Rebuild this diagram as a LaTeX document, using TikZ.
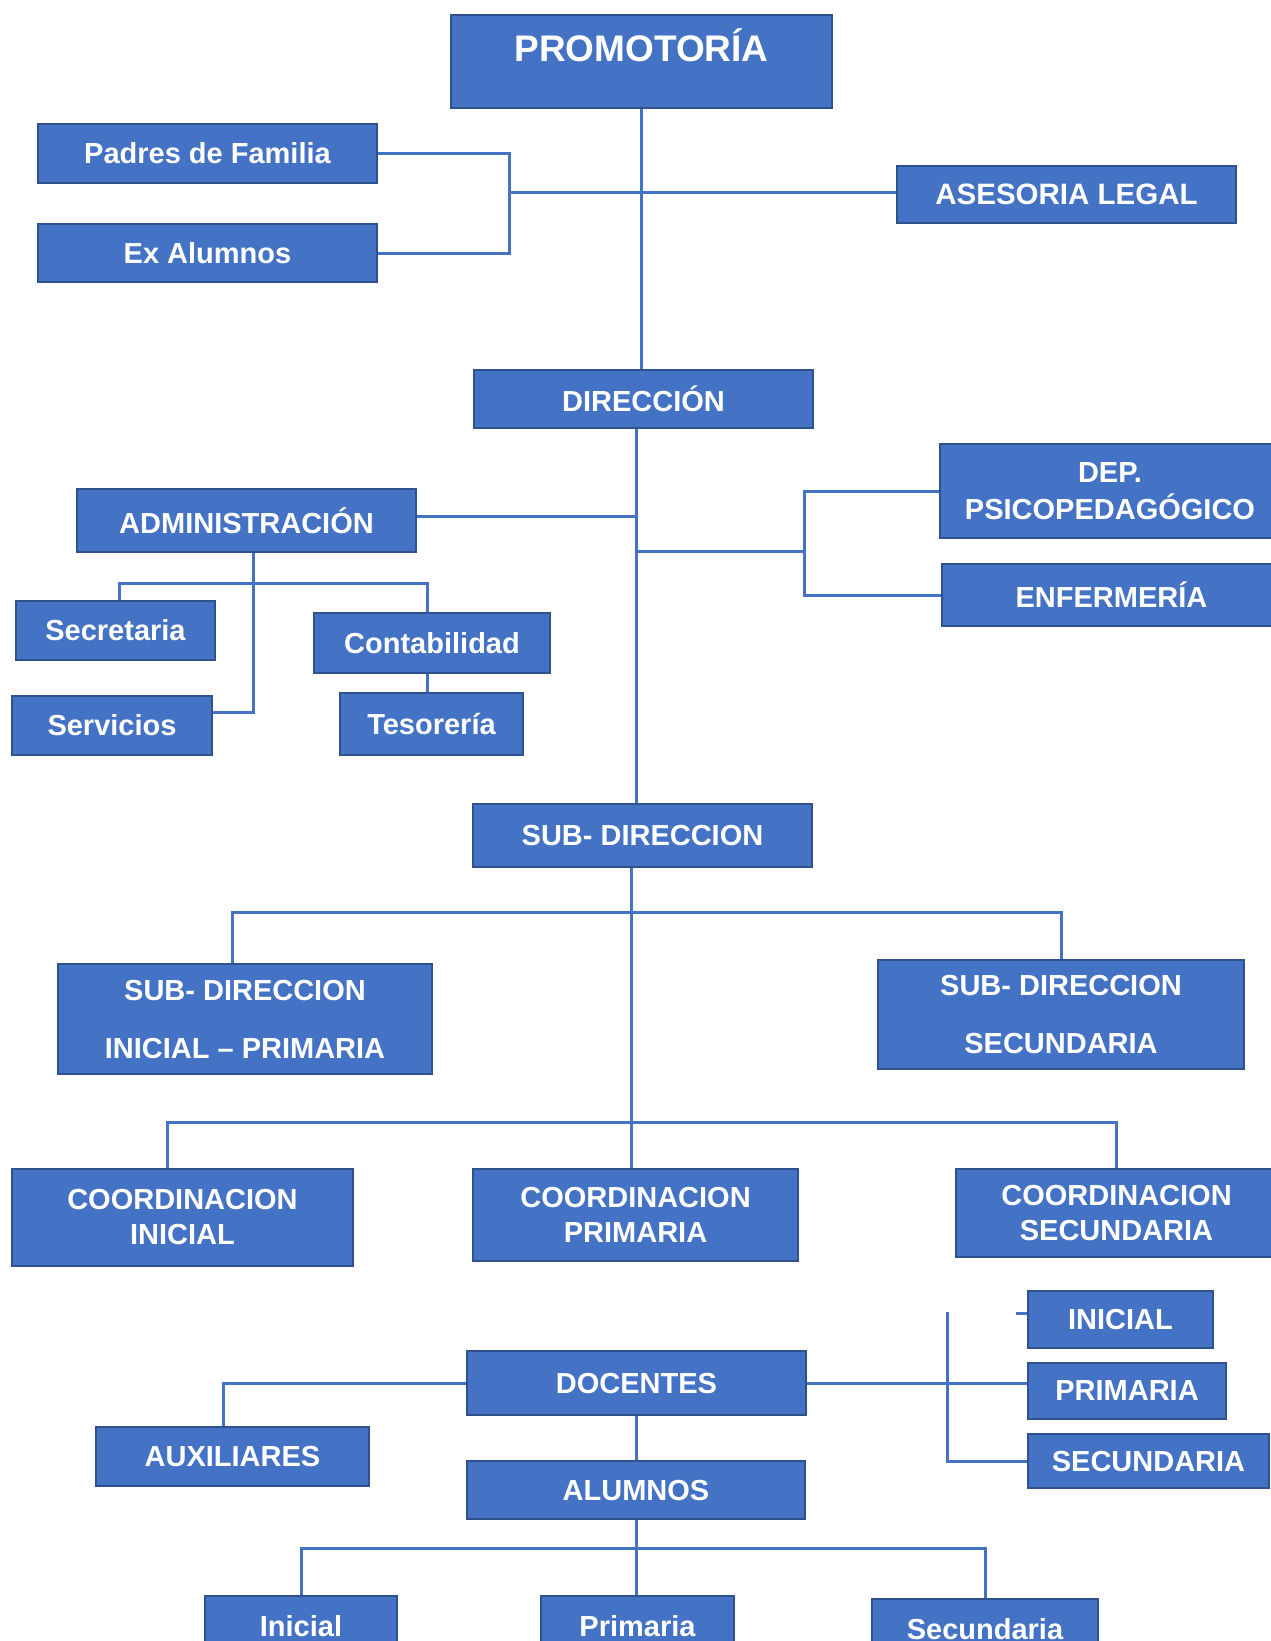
\documentclass[tikz,border=0pt]{standalone}
\usepackage{fontspec}
\setmainfont{Liberation Sans}
\usepackage{xcolor}
\usetikzlibrary{positioning,calc,backgrounds}
\definecolor{boxblue}{HTML}{4472C4}
\definecolor{boxedge}{HTML}{2F528F}

\begin{document}
\begin{tikzpicture}[x=1pt, y=-1pt,
    every node/.style={font=\fontsize{29}{35}\selectfont\bfseries, text=white},
    orgbox/.style 2 args={draw=boxedge, fill=boxblue, line width=2.5pt, align=center, inner sep=0pt, minimum width=#1, minimum height=#2},
    link/.style={draw=boxblue, line width=3pt}]
        \useasboundingbox (0,0) rectangle (1271,1641);
        % Top
        \node[orgbox={381pt}{93pt}, font=\fontsize{37}{42}\selectfont\bfseries, text depth=32pt] (prom) at (641.5,61.5) {PROMOTORÍA};
        \node[orgbox={339pt}{59pt}] (padres) at (207.5,153.5) {Padres de Familia};
        \node[orgbox={339pt}{58pt}] (exalum) at (207.5,253) {Ex Alumnos};
        \node[orgbox={339pt}{57pt}, font=\fontsize{29.5}{35}\selectfont\bfseries] (ases) at (1066.5,194.5) {ASESORIA LEGAL};
        \node[orgbox={339pt}{58pt}] (dir) at (643.5,399) {DIRECCIÓN};
        % Direccion branches
        \node[orgbox={339pt}{63pt}] (admin) at (246.5,520.5) {ADMINISTRACIÓN};
        \node[orgbox={340pt}{94pt}, font=\fontsize{29}{37}\selectfont\bfseries] (dep) at (1110,491) {DEP.\\PSICOPEDAGÓGICO};
        \node[orgbox={339pt}{62pt}] (enf) at (1111.5,595) {ENFERMERÍA};
        \node[orgbox={199pt}{59pt}] (secr) at (115.5,630.5) {Secretaria};
        \node[orgbox={236pt}{60pt}] (contab) at (432,643) {Contabilidad};
        \node[orgbox={183pt}{62pt}] (teso) at (431.5,724) {Tesorería};
        \node[orgbox={200pt}{59pt}] (serv) at (112,725.5) {Servicios};
        \node[orgbox={339pt}{63pt}] (subdir) at (642.5,835.5) {SUB- DIRECCION};
        % Sub direcciones
        \node[orgbox={374pt}{110pt}, text depth=0pt] (sdini) at (245,1019) {SUB- DIRECCION\\[23pt]INICIAL – PRIMARIA};
        \node[orgbox={366pt}{109pt}, text depth=0pt] (sdsec) at (1061,1014.5) {SUB- DIRECCION\\[23pt]SECUNDARIA};
        % Coordinaciones
        \node[orgbox={341pt}{97pt}] (coini) at (182.5,1217.5) {COORDINACION\\INICIAL};
        \node[orgbox={325pt}{92pt}] (coprim) at (635.5,1215) {COORDINACION\\PRIMARIA};
        \node[orgbox={321pt}{88pt}] (cosec) at (1116.5,1213) {COORDINACION\\SECUNDARIA};
        % Docentes
        \node[orgbox={185pt}{57pt}] (lini) at (1120.5,1319.5) {INICIAL};
        \node[orgbox={198pt}{56pt}] (lprim) at (1127,1391) {PRIMARIA};
        \node[orgbox={241pt}{54pt}] (lsec) at (1148.5,1461) {SECUNDARIA};
        \node[orgbox={339pt}{64pt}] (doc) at (636.5,1383) {DOCENTES};
        \node[orgbox={273pt}{59pt}] (aux) at (232.5,1456.5) {AUXILIARES};
        \node[orgbox={338pt}{58pt}] (alum) at (636,1490) {ALUMNOS};
        % Alumnos
        \node[orgbox={192pt}{60pt}] (bini) at (301,1626) {Inicial};
        \node[orgbox={193pt}{60pt}] (bprim) at (637.5,1626) {Primaria};
        \node[orgbox={226pt}{60pt}] (bsec) at (985,1629) {Secundaria};
        % Joints
        \coordinate (famjoin) at (509,192);
        \coordinate (dtrunk) at (636,516);
        \coordinate (depjoin) at (804,551);
        \coordinate (admbar) at (253,583);
        \coordinate (secdrop) at (119,583);
        \coordinate (contdrop) at (427,583);
        \coordinate (servjoin) at (253,712);
        \coordinate (sbar) at (631,912);
        \coordinate (sdrop) at (232,912);
        \coordinate (cbar) at (631,1122);
        \coordinate (cdrop) at (167,1122);
        \coordinate (auxdrop) at (223,1383);
        \coordinate (lvtop) at (947,1312);
        \coordinate (ltick) at (1016,1313);
        \coordinate (abar) at (636,1548);
        \begin{scope}[on background layer]
            \fill[white] (0,0) rectangle (1271,1641);
            % Lines
            \draw[link] (prom.south) -- (prom.south |- dir.north);
            \draw[link] (padres.east) -| (famjoin) |- (exalum.east);
            \draw[link] (famjoin) -- (famjoin -| ases.west);
            \draw[link] (dir.south -| dtrunk) -- (subdir.north -| dtrunk);
            \draw[link] (dtrunk -| admin.east) -- (dtrunk);
            \draw[link] (dtrunk |- depjoin) -- (depjoin);
            \draw[link] (dep.west) -| (depjoin) |- (enf.west);
            \draw[link] (admin.south -| servjoin) -- (servjoin) -- (servjoin -| serv.east);
            \draw[link] (secr.north -| secdrop) -- (secdrop) -- (contdrop) -- (contab.north -| contdrop);
            \draw[link] (contab.south -| contdrop) -- (teso.north -| contdrop);
            \draw[link] (subdir.south -| sbar) -- (coprim.north -| sbar);
            \draw[link] (sdini.north -| sdrop) -- (sdrop) -| (sdsec.north);
            \draw[link] (coini.north -| cdrop) -- (cdrop) -| (cosec.north);
            \draw[link] (doc.south) -- (doc.south |- alum.north);
            \draw[link] (doc.west) -- (auxdrop) -- (aux.north -| auxdrop);
            \draw[link] (doc.east) -- (doc.east -| lprim.west);
            \draw[link] (lvtop) |- (lsec.west);
            \draw[link] (ltick) -- (ltick -| lini.west);
            \draw[link] (alum.south) -- (alum.south |- bprim.north);
            \draw[link] (bini.north) |- (abar) -| (bsec.north);
        \end{scope}
    \end{tikzpicture}
\end{document}
